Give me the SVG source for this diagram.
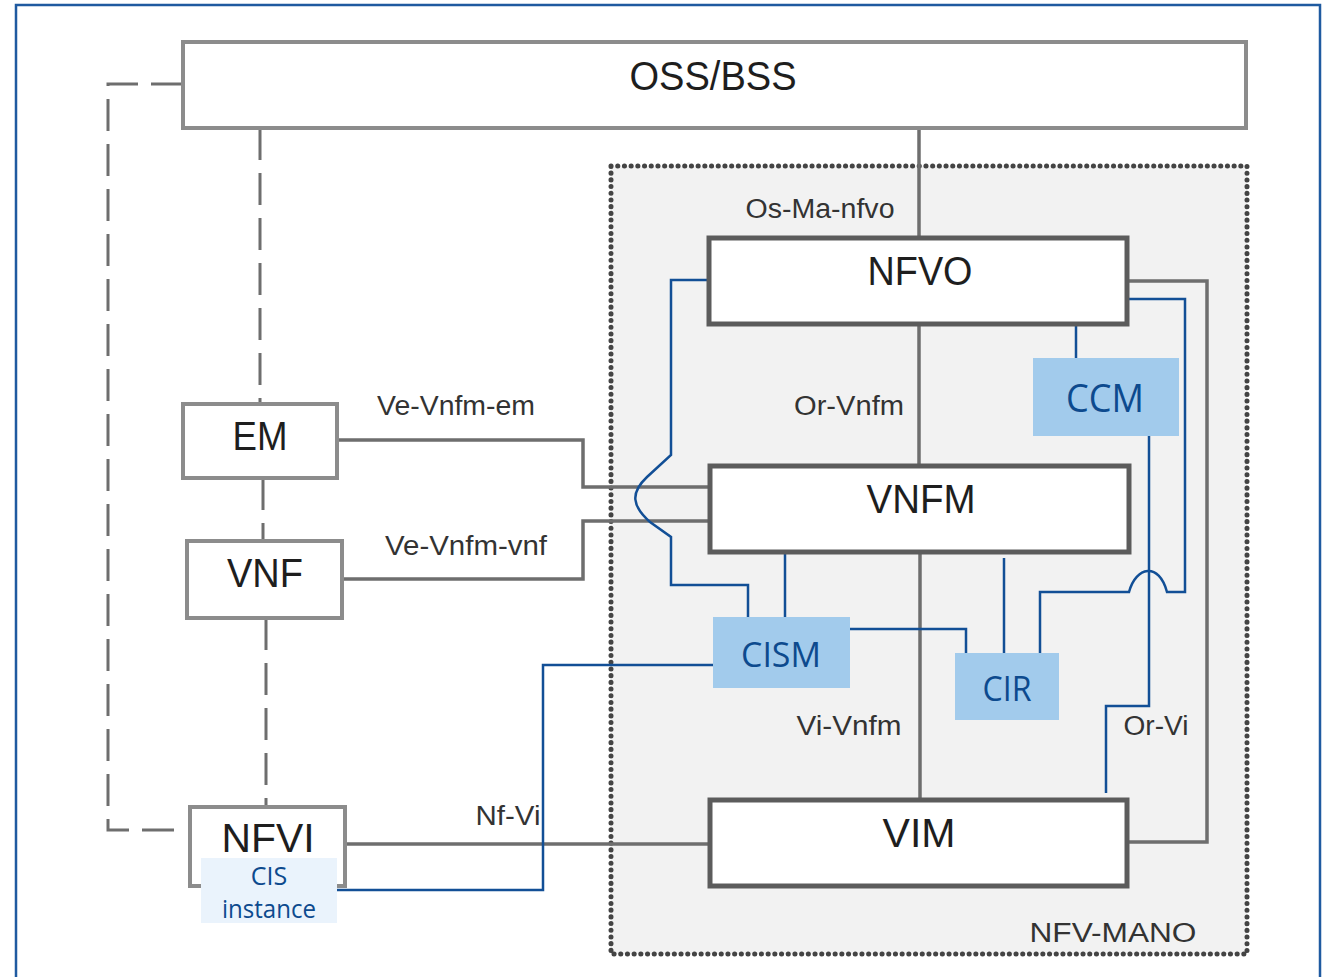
<svg xmlns="http://www.w3.org/2000/svg" width="1324" height="977" viewBox="0 0 1324 977">
<style>
.lbl{font-family:"Liberation Sans",Arial,sans-serif;fill:#333;font-size:27px;text-anchor:middle}
.nt{font-family:"Liberation Sans",Arial,sans-serif;fill:#1e1e1e;font-size:41px;text-anchor:middle}
.bt{font-family:"Open Sans","Noto Sans",sans-serif;fill:#0d4a8e;text-anchor:middle}
.big{fill:#fff;stroke:#5c5c5c;stroke-width:5}
.sm{fill:#fff;stroke:#8c8c8c;stroke-width:4}
.blue{fill:#a2cbec}
.g{fill:none;stroke:#6e6e6e;stroke-width:3.5}
.d{fill:none;stroke:#6e6e6e;stroke-width:3;stroke-dasharray:32 13}
.b{fill:none;stroke:#124f96;stroke-width:2.5}
</style>
<rect x="0" y="0" width="1324" height="977" fill="#fff"/>
<rect x="16" y="5" width="1304" height="990" fill="none" stroke="#1f5aa0" stroke-width="2.5"/>
<g id="nfv-mano">
<rect x="611" y="166" width="636" height="788" fill="#f2f2f2" stroke="#444" stroke-width="5" stroke-dasharray="0.1 6.6" stroke-linecap="round"/>
<text class="lbl" x="1113" y="942" font-size="30" textLength="167" lengthAdjust="spacingAndGlyphs">NFV-MANO</text>
</g>
<g id="connectors">
<path class="d" d="M183,84 H108 V830 H182"/>
<path class="d" d="M260,128 V403"/>
<path class="d" d="M263,478 V540"/>
<path class="d" d="M266,618 V807"/>
<path class="g" d="M919,128 V237"/>
<path class="g" d="M919,325 V465"/>
<path class="g" d="M920,553 V799"/>
<path class="g" d="M1127,281 H1207 V842 H1128"/>
<path class="g" d="M337,440 H583 V487 H709"/>
<path class="g" d="M342,579 H583 V521 H709"/>
<path class="g" d="M345,844 H710"/>
<path class="b" d="M709,280 H671 V455 L647,477 C630,493 632,506 650,522 L671,537 V585 H748 V617"/>
<path class="b" d="M1076,325 V358"/>
<path class="b" d="M785,553 V617"/>
<path class="b" d="M1004,558 V653"/>
<path class="b" d="M850,629 H966 V653"/>
<path class="b" d="M1040,653 V592 H1129 C1136,566 1159,562 1167,592 H1185 V299 H1129"/>
<path class="b" d="M1149,436 V706 H1106 V793"/>
<path class="b" d="M337,890 H543 V665 H713"/>
<text class="lbl" x="820" y="218" textLength="149" lengthAdjust="spacingAndGlyphs">Os-Ma-nfvo</text>
<text class="lbl" x="849" y="415" textLength="110" lengthAdjust="spacingAndGlyphs">Or-Vnfm</text>
<text class="lbl" x="456" y="415" textLength="158" lengthAdjust="spacingAndGlyphs">Ve-Vnfm-em</text>
<text class="lbl" x="466" y="555" textLength="162" lengthAdjust="spacingAndGlyphs">Ve-Vnfm-vnf</text>
<text class="lbl" x="849" y="735" textLength="105" lengthAdjust="spacingAndGlyphs">Vi-Vnfm</text>
<text class="lbl" x="1156" y="735" textLength="65" lengthAdjust="spacingAndGlyphs">Or-Vi</text>
<text class="lbl" x="508" y="825" textLength="65" lengthAdjust="spacingAndGlyphs">Nf-Vi</text>
</g>
<g id="oss-bss">
<rect class="sm" x="183" y="42" width="1063" height="86"/>
<text class="nt" x="713" y="90" font-size="45" textLength="167" lengthAdjust="spacingAndGlyphs">OSS/BSS</text>
</g>
<g id="em">
<rect class="sm" x="183" y="404" width="154" height="74"/>
<text class="nt" x="260" y="450" font-size="38" textLength="55" lengthAdjust="spacingAndGlyphs">EM</text>
</g>
<g id="vnf">
<rect class="sm" x="187" y="541" width="155" height="77"/>
<text class="nt" x="265" y="587" textLength="76" lengthAdjust="spacingAndGlyphs">VNF</text>
</g>
<g id="nfvi">
<rect class="sm" x="190" y="807" width="155" height="79"/>
<text class="nt" x="268" y="852" font-size="40" textLength="93" lengthAdjust="spacingAndGlyphs">NFVI</text>
</g>
<g id="cis-instance">
<rect x="201" y="858" width="136" height="65" fill="#eaf3fc"/>
<text class="bt" x="269" y="885" font-size="25">CIS</text>
<text class="bt" x="269" y="918" font-size="25" textLength="94" lengthAdjust="spacingAndGlyphs">instance</text>
</g>
<g id="nfvo">
<rect class="big" x="709" y="238" width="418" height="86"/>
<text class="nt" x="920" y="285" textLength="105" lengthAdjust="spacingAndGlyphs">NFVO</text>
</g>
<g id="vnfm">
<rect class="big" x="710" y="466" width="419" height="86"/>
<text class="nt" x="921" y="513" font-size="42" textLength="109" lengthAdjust="spacingAndGlyphs">VNFM</text>
</g>
<g id="vim">
<rect class="big" x="710" y="800" width="417" height="86"/>
<text class="nt" x="919" y="847" textLength="73" lengthAdjust="spacingAndGlyphs">VIM</text>
</g>
<g id="ccm">
<rect class="blue" x="1033" y="358" width="146" height="78"/>
<text class="bt" x="1105" y="412" font-size="38" textLength="78" lengthAdjust="spacingAndGlyphs">CCM</text>
</g>
<g id="cism">
<rect class="blue" x="713" y="617" width="137" height="71"/>
<text class="bt" x="781" y="667" font-size="35" textLength="80" lengthAdjust="spacingAndGlyphs">CISM</text>
</g>
<g id="cir">
<rect class="blue" x="955" y="653" width="104" height="67"/>
<text class="bt" x="1007" y="701" font-size="35" textLength="49" lengthAdjust="spacingAndGlyphs">CIR</text>
</g>
</svg>
